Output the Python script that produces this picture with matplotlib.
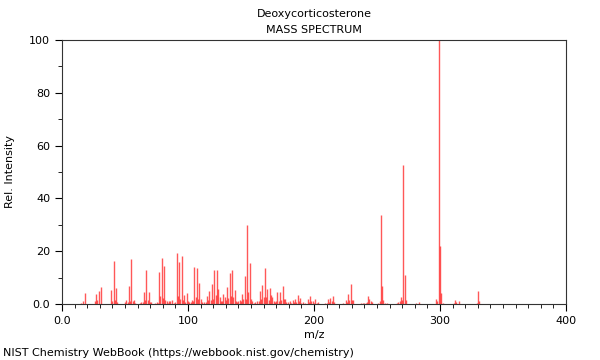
import numpy as np
import matplotlib
matplotlib.use('Agg')
import matplotlib.pyplot as plt
from matplotlib.ticker import MultipleLocator, FixedFormatter, FixedLocator

# m/z and relative intensity
mz = [15, 17, 18, 26, 27, 28, 29, 31, 39, 40, 41, 42, 43, 44, 50, 51, 52, 53, 54, 55,
      56, 57, 58, 62, 63, 64, 65, 66, 67, 68, 69, 70, 71, 74, 75, 76, 77, 78, 79, 80,
      81, 82, 83, 84, 85, 86, 87, 89, 90, 91, 92, 93, 94, 95, 96, 97, 98, 99, 100, 101,
      102, 103, 104, 105, 106, 107, 108, 109, 110, 111, 113, 114, 115, 116, 117, 118, 119, 120, 121, 122,
      123, 124, 125, 126, 127, 128, 129, 130, 131, 132, 133, 134, 135, 136, 137, 138, 139, 140, 141, 142,
      143, 144, 145, 146, 147, 148, 149, 150, 151, 152, 153, 155, 156, 157, 158, 159, 160, 161, 162, 163,
      164, 165, 166, 167, 168, 169, 170, 171, 172, 173, 174, 175, 176, 177, 178, 179, 181, 182, 183, 184,
      185, 186, 187, 188, 189, 190, 191, 193, 195, 196, 197, 198, 199, 200, 201, 202, 203, 209, 210, 211,
      212, 213, 214, 215, 216, 223, 225, 226, 227, 228, 229, 230, 231, 237, 239, 240, 241, 242, 243, 244,
      245, 246, 251, 252, 253, 254, 255, 256, 258, 266, 267, 268, 269, 270, 271, 272, 273, 281, 283, 297,
      298, 299, 300, 301, 302, 311, 312, 313, 315, 329, 330, 331]
intensity = [0.5, 1.0, 4.0, 1.2, 3.6, 1.5, 4.8, 6.5, 5.4, 1.0, 16.4, 1.5, 6.2, 0.8, 0.6, 1.5, 0.8, 6.9, 1.2, 17.0,
             1.3, 1.5, 0.5, 0.5, 0.8, 0.6, 4.7, 1.5, 13.0, 1.5, 4.4, 0.8, 0.9, 0.4, 0.6, 0.5, 12.0, 3.0, 17.3, 2.3,
             14.3, 1.5, 1.0, 0.5, 1.3, 1.0, 1.4, 0.5, 0.8, 19.4, 3.0, 15.9, 2.0, 18.1, 1.5, 3.5, 0.8, 4.2, 1.2, 0.8,
             0.8, 1.6, 1.0, 13.9, 2.8, 13.5, 2.0, 8.0, 1.8, 0.8, 0.6, 0.9, 3.1, 1.4, 5.0, 1.6, 7.6, 2.0, 12.9, 3.5,
             12.8, 5.7, 2.5, 1.2, 1.2, 3.7, 2.5, 1.5, 6.5, 2.2, 11.6, 3.0, 13.0, 2.5, 5.4, 1.0, 0.8, 1.2, 1.5, 1.0,
             3.8, 1.8, 10.7, 2.0, 30.0, 4.7, 15.4, 1.8, 1.0, 0.5, 0.8, 1.2, 1.0, 5.0, 2.0, 7.3, 2.5, 13.5, 2.5, 5.6,
             1.5, 6.2, 3.5, 2.5, 1.0, 0.8, 1.0, 4.5, 1.2, 4.5, 1.5, 6.7, 1.8, 1.8, 0.6, 0.6, 1.0, 0.5, 1.6, 0.6,
             2.0, 0.8, 3.5, 1.0, 2.3, 0.5, 0.9, 0.5, 1.9, 0.6, 3.1, 1.0, 1.2, 0.5, 1.9, 0.5, 0.8, 0.5, 0.4, 1.8,
             0.7, 2.4, 1.0, 3.1, 0.8, 0.3, 1.6, 0.8, 3.6, 1.5, 7.7, 1.5, 1.5, 0.5, 0.4, 0.5, 0.5, 0.7, 3.1, 1.9,
             1.0, 0.6, 0.5, 1.2, 33.8, 7.0, 1.4, 0.4, 0.4, 0.4, 0.6, 1.0, 2.8, 1.6, 52.5, 11.1, 1.6, 0.4, 0.8, 2.0,
             1.0, 100.0, 21.8, 4.0, 0.5, 0.4, 1.5, 0.6, 1.0, 0.5, 5.0, 1.2]

x_ticks = [0, 100, 200, 300, 400]
x_labels = ['0.0', '100', '200', '300', '400']
y_ticks = [0, 20, 40, 60, 80, 100]
y_labels = ['0.0', '20', '40', '60', '80', '100']

fig = plt.figure(figsize=(6, 3.6), dpi=100)
ax = fig.add_axes([62/600, 1-304/360, 504/600, 264/360])

ax.vlines(mz, 0, intensity, colors='#ff2020', linewidth=1.0, alpha=0.75)

ax.set_xlim(0, 400)
ax.set_ylim(0, 100)
ax.xaxis.set_major_locator(FixedLocator(x_ticks))
ax.xaxis.set_major_formatter(FixedFormatter(x_labels))
ax.yaxis.set_major_locator(FixedLocator(y_ticks))
ax.yaxis.set_major_formatter(FixedFormatter(y_labels))
ax.xaxis.set_minor_locator(MultipleLocator(10))
ax.yaxis.set_minor_locator(MultipleLocator(10))
ax.tick_params(which='major', length=5, width=0.8, labelsize=8, direction='out')
ax.tick_params(which='minor', length=3, width=0.6, direction='out')
for s in ax.spines.values():
    s.set_linewidth(0.8)
    s.set_color('#333333')

ax.set_xlabel('m/z', fontsize=8, labelpad=3)
ax.set_ylabel('Rel. Intensity', fontsize=8, labelpad=10)

fig.text(314/600, 1-14/360, 'Deoxycorticosterone', ha='center', va='center', fontsize=8)
fig.text(314/600, 1-30/360, 'MASS SPECTRUM', ha='center', va='center', fontsize=8)
fig.text(3/600, 1-353/360, 'NIST Chemistry WebBook (https://webbook.nist.gov/chemistry)',
         ha='left', va='center', fontsize=8)

fig.savefig('out.png', dpi=100)
